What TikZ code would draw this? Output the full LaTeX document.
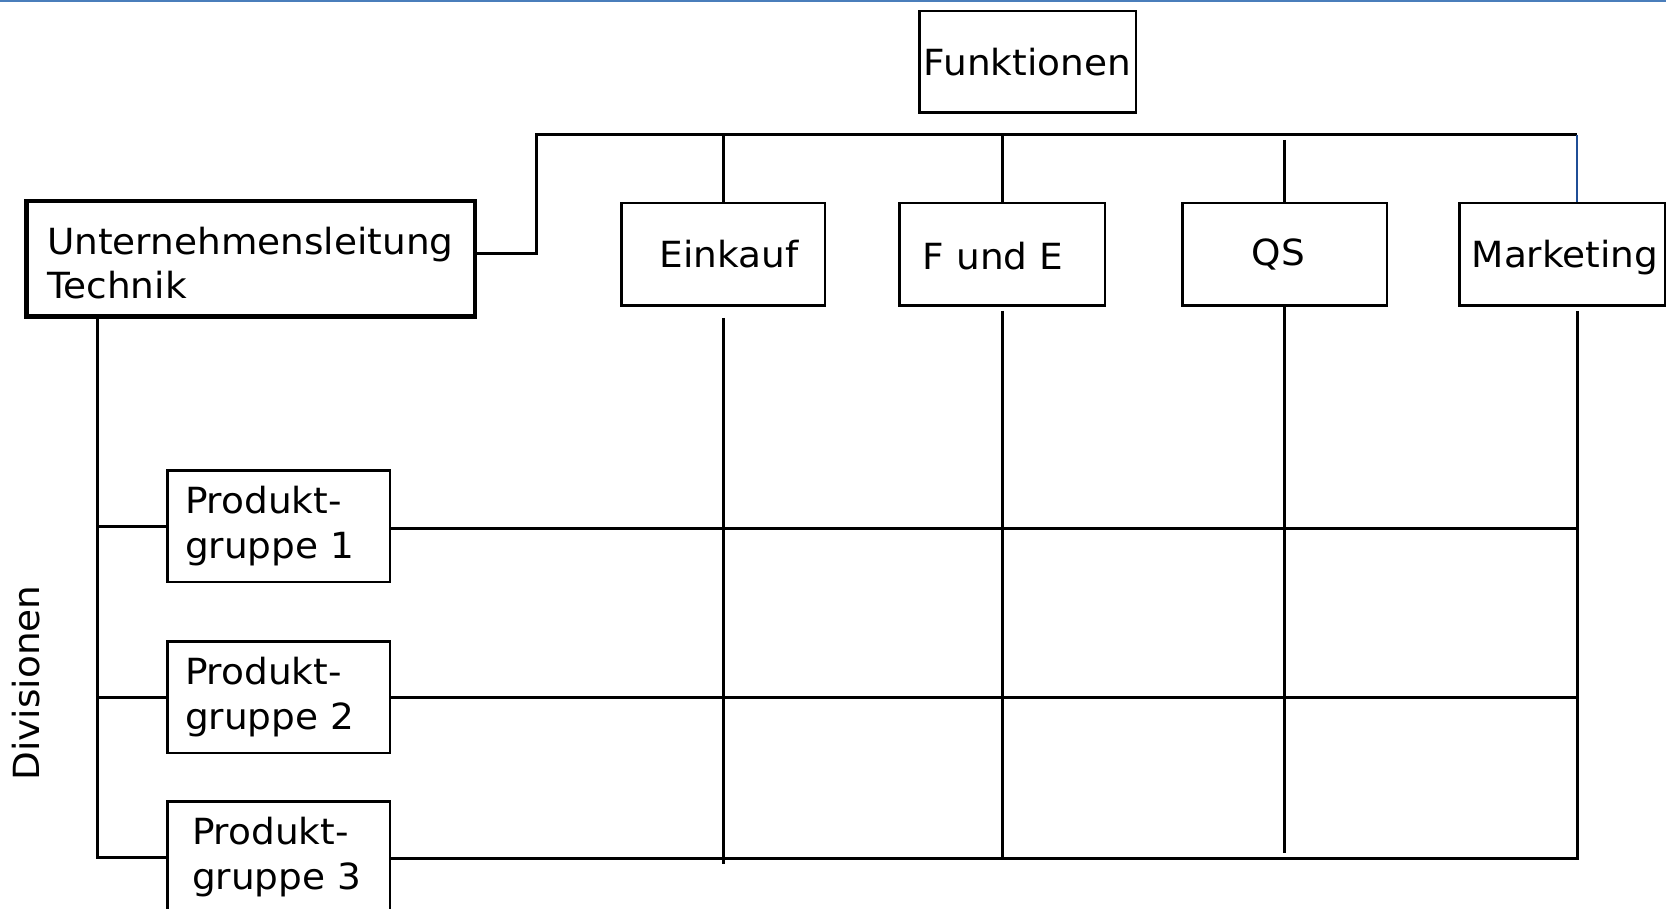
\documentclass[tikz,border=0pt]{standalone}
\usepackage{fontspec}
\setmainfont{DejaVu Sans}[FakeStretch=1.04]
\usetikzlibrary{calc}
\definecolor{topblue}{RGB}{74,126,187}
\definecolor{linkblue}{RGB}{31,78,150}
\newcommand{\lowertext}[2]{\raisebox{-#1}[\height][\depth]{#2}}
\begin{document}
\begin{tikzpicture}[x=1pt,y=-1pt,
  every node/.style={font=\fontsize{36}{44.5}\selectfont},
  fbox/.style={draw=black,line width=2.5pt,inner sep=0pt,minimum width=#1,minimum height=102.5pt},
  pgbox/.style={draw=black,line width=2.5pt,inner ysep=0pt,inner xsep=#1,minimum height=111.5pt,
    text width=222.5pt-2*#1,align=left},
  conn/.style={line width=3pt,black},
  bconn/.style={line width=1.6pt,linkblue}]
\useasboundingbox (0,0) rectangle (1666,909);
\clip (0,0) rectangle (1666,909);
\fill[white] (0,0) rectangle (1666,909);
\draw[topblue,line width=1.6pt] (0,0.8) -- (1666,0.8);

% nodes
\node[draw=black,line width=2.5pt,inner sep=0pt,minimum width=216.5pt,minimum height=101.5pt] (F) at (1027.5,62) {Funktionen};
\node[draw=black,line width=4.5pt,inner ysep=0pt,inner xsep=20.75pt,minimum height=115.5pt,
      text width=407pt,align=left] (U) at (250.5,259) {\lowertext{4pt}{Unternehmensleitung}\\\lowertext{4pt}{Technik}};
\node[fbox=203.5pt] (E) at (723,254.5) {\hspace*{12pt}Einkauf};
\node[fbox=205.5pt] (FE) at (1002,254.5) {\lowertext{2pt}{F und E}\hspace*{18pt}};
\node[fbox=204.5pt] (QS) at (1284.5,254.5) {QS\hspace*{12pt}};
\node[fbox=205.5pt] (M) at (1562,254.5) {\lowertext{3pt}{\hspace*{6pt}Marketing}};
\node[pgbox=17.75pt] (P1) at (278.5,526) {Produkt-\\gruppe 1};
\node[pgbox=17.75pt] (P2) at (278.5,697) {Produkt-\\gruppe 2};
\node[pgbox=24.75pt] (P3) at (278.5,857) {Produkt-\\gruppe 3};
\node[rotate=90,inner sep=0pt] (D) at (26,683) {Divisionen};

% coordinates
\coordinate (busL) at (536,135);
\coordinate (busR) at (1577,135);
\coordinate (vx) at (97,0);
\coordinate (uy) at (0,254);
\coordinate (bot) at (0,858);

% top bus
\draw[conn] (U.east |- uy) -| (busL) -- (busR);
\draw[conn] (E.north |- busL) -- (E.north);
\draw[conn] (FE.north |- busL) -- (FE.north);
\draw[conn] ($(QS.north |- busL)+(0,5)$) -- ($(QS.north)+(0,2)$);
\draw[bconn] (busR) -- (busR |- M.north);

% verticals below function boxes
\draw[conn] ($(E.south)+(0,11)$) -- ($(E.south |- bot)+(0,6)$);
\draw[conn] ($(FE.south)+(0,4)$) -- (FE.south |- bot);
\draw[conn] (QS.south) -- ($(QS.south |- bot)+(0,-5)$);
\draw[conn] ($(M.south -| busR)+(0,4)$) -- ($(busR |- bot)+(0,1.5)$);

% left division line
\draw[conn] (U.south -| vx) -- (vx |- P3.west) -- (P3.west);
\draw[conn] (vx |- P1.west) -- (P1.west);
\draw[conn] (vx |- P2.west) -- (P2.west);

% rows
\draw[conn] ($(P1.east)+(0,2)$) -- ($(P1.east -| busR)+(0,2)$);
\draw[conn] (P2.east) -- (P2.east -| busR);
\draw[conn] ($(P3.east)+(0,1)$) -- ($(P3.east -| busR)+(0,1)$);
\end{tikzpicture}
\end{document}
